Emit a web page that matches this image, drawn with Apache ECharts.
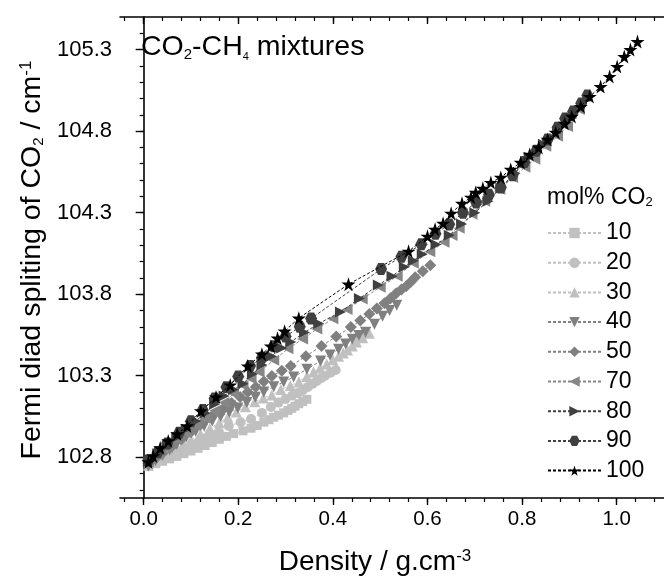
<!DOCTYPE html>
<html>
<head>
<meta charset="utf-8">
<script src="https://cdn.jsdelivr.net/npm/echarts@6/dist/echarts.min.js"></script>
<style>html,body{margin:0;padding:0;background:#fff}#c{width:664px;height:579px}</style>
</head>
<body>
<div id="c"></div>
<script>
// ---- data (density g/cm3, Fermi diad splitting cm-1) ----
const seriesNames = ['10','20','30','40','50','70','80','90','100'];
const dens10 = [0.010,0.025,0.040,0.055,0.070,0.085,0.100,0.115,0.130,0.145,0.160,0.175,0.190,0.210,0.227,0.240,0.254,0.265,0.275,0.285,0.296,0.305,0.313,0.320,0.328,0.336,0.345];
const fds10  = [102.745,102.760,102.775,102.790,102.805,102.822,102.838,102.855,102.872,102.890,102.910,102.928,102.945,102.962,102.978,102.995,103.015,103.030,103.045,103.058,103.072,103.087,103.100,103.113,103.128,103.142,103.155];
const dens20 = [0.010,0.025,0.040,0.055,0.070,0.085,0.100,0.115,0.130,0.145,0.159,0.180,0.205,0.227,0.250,0.269,0.285,0.300,0.314,0.326,0.337,0.347,0.357,0.366,0.375,0.383,0.395,0.406];
const fds20  = [102.750,102.770,102.790,102.810,102.830,102.850,102.870,102.892,102.915,102.935,102.955,102.992,103.015,103.035,103.072,103.108,103.135,103.157,103.178,103.194,103.213,103.231,103.250,103.268,103.284,103.298,103.318,103.335];
const dens30 = [0.010,0.025,0.040,0.055,0.070,0.085,0.100,0.120,0.140,0.160,0.178,0.196,0.215,0.235,0.253,0.271,0.290,0.310,0.328,0.345,0.359,0.373,0.387,0.400,0.412,0.422,0.431,0.441,0.450,0.463,0.477];
const fds30  = [102.752,102.777,102.803,102.830,102.856,102.882,102.908,102.942,102.977,103.012,103.045,103.078,103.110,103.140,103.163,103.182,103.215,103.240,103.262,103.295,103.323,103.348,103.372,103.398,103.420,103.440,103.457,103.482,103.506,103.533,103.561];
const dens40 = [0.010,0.025,0.040,0.055,0.070,0.090,0.110,0.128,0.145,0.163,0.181,0.199,0.218,0.236,0.254,0.275,0.296,0.317,0.345,0.374,0.394,0.412,0.427,0.441,0.455,0.469,0.488,0.505,0.520,0.535];
const fds40  = [102.745,102.778,102.812,102.845,102.880,102.924,102.960,102.992,103.022,103.050,103.076,103.102,103.135,103.168,103.200,103.232,103.262,103.292,103.340,103.390,103.427,103.463,103.494,103.524,103.546,103.567,103.616,103.665,103.700,103.732];
const dens50 = [0.010,0.025,0.040,0.060,0.080,0.100,0.122,0.145,0.168,0.186,0.204,0.220,0.237,0.254,0.271,0.292,0.311,0.343,0.376,0.407,0.438,0.458,0.477,0.493,0.509,0.522,0.534,0.545,0.555,0.565,0.574,0.590,0.606];
const fds50  = [102.760,102.792,102.825,102.868,102.912,102.955,103.005,103.053,103.096,103.133,103.169,103.200,103.231,103.265,103.298,103.330,103.359,103.420,103.482,103.540,103.598,103.638,103.678,103.712,103.745,103.775,103.806,103.828,103.849,103.876,103.904,103.940,103.977];
const dens70 = [0.010,0.030,0.050,0.070,0.090,0.110,0.130,0.150,0.170,0.190,0.210,0.227,0.244,0.275,0.305,0.336,0.366,0.400,0.430,0.462,0.500,0.536,0.570,0.605,0.635,0.652,0.667,0.694,0.721,0.753,0.780,0.806,0.827,0.850,0.875,0.896,0.921];
const fds70  = [102.770,102.815,102.860,102.905,102.950,102.995,103.040,103.085,103.135,103.190,103.240,103.282,103.323,103.395,103.465,103.525,103.586,103.650,103.706,103.770,103.843,103.910,103.990,104.060,104.118,104.160,104.204,104.290,104.370,104.444,104.516,104.578,104.627,104.707,104.768,104.829,104.933];
const dens80 = [0.010,0.030,0.050,0.070,0.090,0.110,0.130,0.150,0.170,0.190,0.210,0.230,0.250,0.270,0.292,0.311,0.340,0.370,0.416,0.456,0.496,0.525,0.551,0.570,0.589,0.618,0.646,0.672,0.700,0.728,0.755,0.785,0.815,0.845,0.875,0.905];
const fds80  = [102.772,102.822,102.872,102.922,102.972,103.022,103.072,103.125,103.175,103.215,103.250,103.310,103.365,103.420,103.470,103.507,103.565,103.620,103.690,103.773,103.856,103.910,103.966,104.005,104.045,104.105,104.161,104.230,104.300,104.370,104.450,104.540,104.640,104.720,104.800,104.880];
const dens90 = [0.010,0.030,0.050,0.075,0.100,0.125,0.150,0.175,0.200,0.225,0.250,0.275,0.300,0.330,0.354,0.502,0.545,0.587,0.617,0.646,0.675,0.703,0.730,0.755,0.780,0.805,0.830,0.854,0.875,0.891,0.908,0.925,0.938];
const fds90  = [102.780,102.830,102.885,102.950,103.020,103.090,103.160,103.230,103.295,103.360,103.410,103.480,103.540,103.600,103.651,103.954,104.030,104.106,104.170,104.228,104.300,104.363,104.410,104.455,104.530,104.610,104.680,104.749,104.820,104.877,104.920,104.970,105.018];
const dens100 = [0.010,0.020,0.035,0.052,0.071,0.092,0.121,0.153,0.183,0.220,0.250,0.269,0.283,0.298,0.328,0.433,0.560,0.600,0.616,0.633,0.650,0.673,0.692,0.702,0.717,0.734,0.755,0.776,0.797,0.816,0.835,0.854,0.871,0.890,0.905,0.924,0.943,0.966,0.985,1.001,1.016,1.029,1.044];
const fds100  = [102.771,102.808,102.857,102.900,102.943,102.992,103.084,103.169,103.243,103.359,103.432,103.481,103.530,103.573,103.653,103.861,104.063,104.155,104.198,104.235,104.296,104.357,104.394,104.424,104.449,104.485,104.516,104.565,104.608,104.657,104.700,104.749,104.792,104.847,104.890,104.951,105.012,105.073,105.135,105.196,105.257,105.300,105.349];
const xTickLabels = [0.0,0.2,0.4,0.6,0.8,1.0];
const yTickLabels = [102.8,103.3,103.8,104.3,104.8,105.3];

// ---- styling ----
const FONT = 'Liberation Sans, Arial, sans-serif';
const allDens = [dens10,dens20,dens30,dens40,dens50,dens70,dens80,dens90,dens100];
const allFds  = [fds10,fds20,fds30,fds40,fds50,fds70,fds80,fds90,fds100];
const colors = ['#c0c0c0','#c0c0c0','#c0c0c0','#808080','#808080','#868686','#404040','#404040','#000000'];
const STAR = 'path://M50,0 L61,35 L98,35 L68,57 L79,91 L50,70 L21,91 L32,57 L2,35 L39,35 Z';
const HEX = 'path://M25,0 L75,0 L100,43 L75,87 L25,87 L0,43 Z';
const symbols = ['rect','circle','triangle','triangle','diamond','triangle','triangle',HEX,STAR];
const rotates = [0,0,0,180,0,90,-90,0,0];
const sizes = [9,10,11,11,12,11,11,12,14];

function range(a,b,step){const r=[];const n=Math.round((b-a)/step);for(let i=0;i<=n;i++)r.push(Math.round((a+i*step)*1000)/1000);return r;}
const xMinor = range(-0.04,1.08,0.04);
const yMinor = range(102.6,105.4,0.1);

const series = seriesNames.map((nm,i)=>({
  name: nm, type:'line', xAxisIndex:0, yAxisIndex:0,
  data: allDens[i].map((d,k)=>[d,allFds[i][k]]),
  symbol: symbols[i], symbolRotate: rotates[i], symbolSize: sizes[i],
  showAllSymbol: true, animation:false,
  itemStyle:{color:colors[i], borderWidth:0},
  lineStyle:{color:colors[i], width:1, type:[3,2]},
  z: 2+i
}));

const axLine = {show:true, lineStyle:{color:'#000', width:1.6}};
const option = {
  animation:false,
  grid:{left:120, top:17, right:-3, bottom:81, containLabel:false},
  xAxis:[
    {type:'value', position:'bottom', min:-0.05, max:1.1, axisLine:axLine,
     axisTick:{show:true, inside:false, length:7, customValues:xTickLabels, lineStyle:{color:'#000',width:1.4}},
     axisLabel:{show:true, customValues:xTickLabels, margin:11, color:'#000', fontSize:20.5, fontFamily:FONT, formatter:v=>v.toFixed(1)},
     splitLine:{show:false}},
    {type:'value', position:'bottom', min:-0.05, max:1.1, axisLine:{show:false},
     axisTick:{show:true, inside:false, length:4, customValues:xMinor, lineStyle:{color:'#000',width:1.2}},
     axisLabel:{show:false}, splitLine:{show:false}},
    {type:'value', position:'top', min:-0.05, max:1.1, axisLine:axLine,
     axisTick:{show:true, inside:true, length:7, customValues:xTickLabels, lineStyle:{color:'#000',width:1.4}},
     axisLabel:{show:false}, splitLine:{show:false}},
    {type:'value', position:'top', min:-0.05, max:1.1, axisLine:{show:false},
     axisTick:{show:true, inside:true, length:4, customValues:xMinor, lineStyle:{color:'#000',width:1.2}},
     axisLabel:{show:false}, splitLine:{show:false}}
  ],
  yAxis:[
    {type:'value', position:'left', min:102.55, max:105.5, axisLine:axLine,
     axisTick:{show:true, inside:false, length:8, customValues:yTickLabels, lineStyle:{color:'#000',width:1.4}},
     axisLabel:{show:true, customValues:yTickLabels, margin:8, color:'#000', fontSize:22, fontFamily:FONT, formatter:v=>v.toFixed(1)},
     splitLine:{show:false}},
    {type:'value', position:'left', min:102.55, max:105.5, axisLine:{show:false},
     axisTick:{show:true, inside:false, length:4, customValues:yMinor, lineStyle:{color:'#000',width:1.2}},
     axisLabel:{show:false}, splitLine:{show:false}}
  ],
  legend:{
    show:true, orient:'vertical', left:542, top:216, padding:5,
    itemWidth:53, itemHeight:13, itemGap:5.7,
    data: seriesNames,
    textStyle:{fontSize:23, fontFamily:FONT, color:'#000', lineHeight:24}
  },
  graphic:[
    {type:'text', left:141, top:33, silent:true,
     style:{text:'CO{s|2}-CH{s4|4} mixtures', fontSize:28.5, fontFamily:FONT, fill:'#000',
       rich:{s:{fontSize:15, fontFamily:FONT, verticalAlign:'bottom', lineHeight:8}, s4:{fontSize:11, fontFamily:FONT, verticalAlign:'bottom', lineHeight:8}}}},
    {type:'text', left:547, top:186, silent:true,
     style:{text:'mol% CO{s|2}', fontSize:23, fontFamily:FONT, fill:'#000',
       rich:{s:{fontSize:13, fontFamily:FONT, verticalAlign:'bottom', lineHeight:8}}}},
    {type:'text', x:375, y:562, silent:true,
     style:{text:'Density / g.cm{p|-3}', fontSize:28, fontFamily:FONT, fill:'#000', align:'center', verticalAlign:'middle',
       rich:{p:{fontSize:17, fontFamily:FONT, verticalAlign:'top', lineHeight:8}}}},
    {type:'text', x:32, y:260, rotation:Math.PI/2, silent:true,
     style:{text:'Fermi diad spliting of CO{s|2} / cm{p|-1}', fontSize:28.5, fontFamily:FONT, fill:'#000', align:'center', verticalAlign:'middle',
       rich:{s:{fontSize:15, fontFamily:FONT, verticalAlign:'bottom', lineHeight:8}, p:{fontSize:17, fontFamily:FONT, verticalAlign:'top', lineHeight:8}}}}
  ],
  series: series
};
const chart = echarts.init(document.getElementById('c'), null, {renderer:'canvas'});
chart.setOption(option);
</script>
</body>
</html>
